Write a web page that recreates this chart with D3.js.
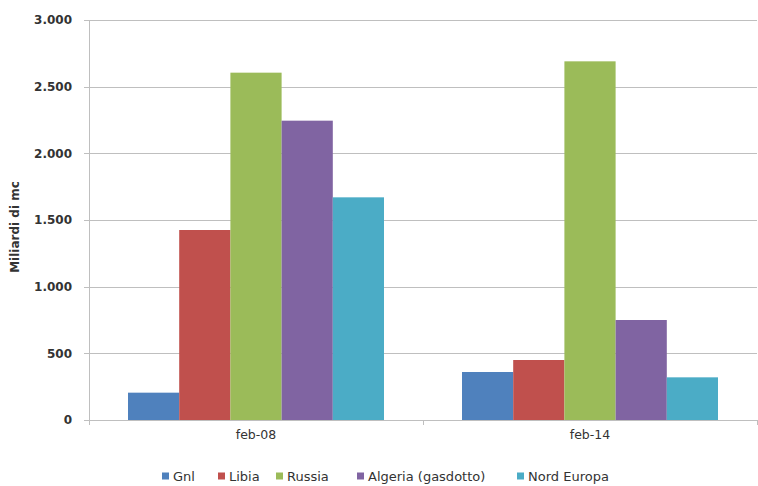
<!DOCTYPE html>
<meta charset="utf-8">
<style>
  body { margin: 0; background: #fff; }
  text { font-family: "DejaVu Sans", Arial, sans-serif; fill: #333; }
  .axis path { display: none; }
  .grid line { stroke: #bfbfbf; stroke-width: 1; }
</style>
<body>
<svg width="758" height="486"></svg>
<script src="https://cdnjs.cloudflare.com/ajax/libs/d3/7.8.5/d3.min.js"></script>
<script>
// periods on the x axis
var categories = ["feb-08", "feb-14"];
// supply sources
var seriesNames = ["Gnl", "Libia", "Russia", "Algeria (gasdotto)", "Nord Europa"];
var seriesColors = ["#4f81bd", "#c0504d", "#9bbb59", "#8064a2", "#4bacc6"];
// values (miliardi di mc), one array per period
var feb08 = [205, 1425, 2605, 2245, 1670];
var feb14 = [360, 450, 2690, 750, 320];
var yTicks = [0, 500, 1000, 1500, 2000, 2500, 3000];

var values = [feb08, feb14];

var svg = d3.select("svg");
var margin = {top: 20, right: 1, bottom: 66, left: 89},
    width = 758 - margin.left - margin.right,
    height = 486 - margin.top - margin.bottom;

var g = svg.append("g").attr("transform", "translate(" + margin.left + "," + margin.top + ")");

var x0 = d3.scaleBand().domain(categories).range([0, width]);
var x1 = d3.scaleBand().domain(seriesNames).range([39, x0.bandwidth() - 39]);
var y = d3.scaleLinear().domain([0, 3000]).range([height, 0]);

var fmt = function(d) { return d3.format(",")(d).replace(/,/g, "."); };

// gridlines
g.append("g").attr("class", "grid")
  .selectAll("line").data(yTicks).enter().append("line")
  .attr("x1", -5).attr("x2", width)
  .attr("y1", function(d) { return Math.round(y(d)) + 0.5; })
  .attr("y2", function(d) { return Math.round(y(d)) + 0.5; });

// left axis line
g.append("line").attr("x1", 0.5).attr("x2", 0.5).attr("y1", 0).attr("y2", height)
  .attr("stroke", "#bfbfbf");

// category separator ticks
g.append("g").selectAll("line").data([0, x0.bandwidth(), width]).enter().append("line")
  .attr("x1", function(d) { return Math.round(d) + 0.5; })
  .attr("x2", function(d) { return Math.round(d) + 0.5; })
  .attr("y1", height).attr("y2", height + 5)
  .attr("stroke", "#bfbfbf");

g.append("g").attr("class", "axis")
  .call(d3.axisLeft(y).tickValues(yTicks).tickFormat(fmt).tickSize(0).tickPadding(17))
  .selectAll("text").style("font-size", "12px").style("font-weight", "bold").attr("fill", "#3a3a3a");

// bars
var groups = g.selectAll(".grp").data(categories).enter().append("g")
  .attr("transform", function(d) { return "translate(" + x0(d) + ",0)"; });

groups.selectAll("rect")
  .data(function(d, i) { return values[i].map(function(v, j) { return {name: seriesNames[j], value: v, color: seriesColors[j]}; }); })
  .enter().append("rect")
  .attr("x", function(d) { return x1(d.name); })
  .attr("width", x1.bandwidth())
  .attr("y", function(d) { return y(d.value); })
  .attr("height", function(d) { return y(0) - y(d.value); })
  .attr("fill", function(d) { return d.color; });

// x labels
g.append("g").attr("class", "axis")
  .attr("transform", "translate(0," + height + ")")
  .call(d3.axisBottom(x0).tickSize(0).tickPadding(10))
  .selectAll("text").style("font-size", "12.5px").attr("fill", "#444");

// y title
svg.append("text")
  .attr("transform", "translate(19,227) rotate(-90)")
  .attr("text-anchor", "middle")
  .style("font-size", "12px").style("font-weight", "bold")
  .text("Miliardi di mc");

// legend
var legendX = [162, 218, 276, 357, 517];
var legend = svg.selectAll(".legend").data(seriesNames).enter().append("g")
  .attr("transform", function(d, i) { return "translate(" + legendX[i] + ",476)"; });
legend.append("rect").attr("width", 7).attr("height", 7).attr("y", -3.5)
  .attr("fill", function(d, i) { return seriesColors[i]; });
legend.append("text").attr("x", 11).attr("y", 4.5)
  .style("font-size", "13px").attr("fill", "#444")
  .text(function(d) { return d; });
</script>
</body>
